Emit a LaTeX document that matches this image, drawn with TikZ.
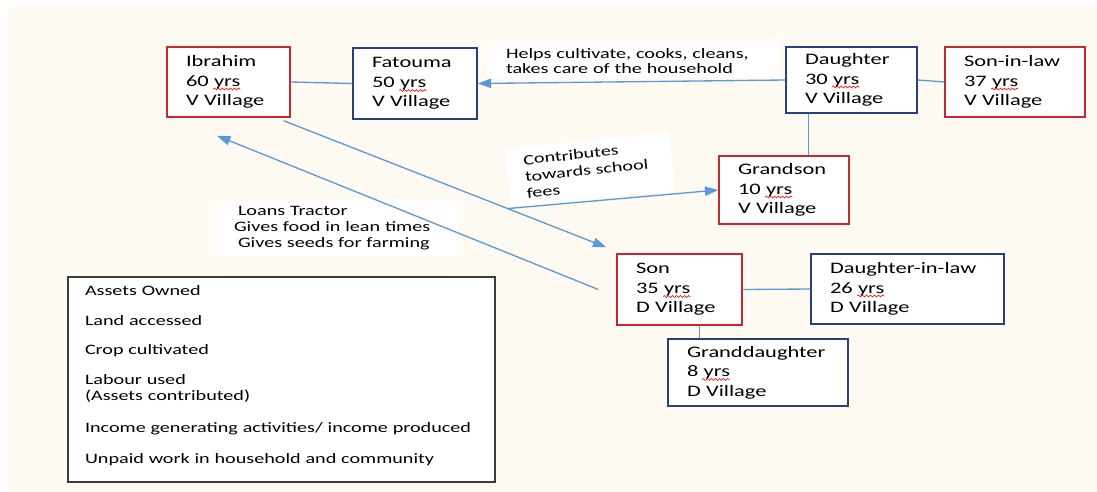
\documentclass[tikz,border=0pt]{standalone}
\usepackage{fontspec}
\setmainfont{Carlito}[FakeStretch=1.4]
\usetikzlibrary{arrows.meta,calc,decorations.pathmorphing}
\definecolor{cream}{RGB}{254,250,241}
\definecolor{pred}{RGB}{200,40,45}
\definecolor{pblue}{RGB}{40,65,125}
\definecolor{connc}{RGB}{91,155,213}
\definecolor{boxgray}{RGB}{60,60,60}
\begin{document}
\begin{tikzpicture}[x=0.75pt,y=-0.75pt,
  pbox/.style={draw, fill=white, line width=1.1pt, align=left, inner xsep=14.25pt, inner ysep=0pt, font=\fontsize{12}{14.6}\selectfont},
  redbox/.style={pbox, draw=pred},
  bluebox/.style={pbox, draw=pblue},
  lab/.style={fill=white, align=left, inner ysep=0pt, font=\fontsize{10.8}{12}\selectfont},
  conn/.style={draw=connc, line width=1pt},
  arr/.style={conn, -{Triangle[length=10pt,width=7pt]}},
  wavy/.style={draw=red, line width=0.5pt, decorate, decoration={snake, amplitude=0.7pt, segment length=3pt}},
]
\useasboundingbox (0,0) rectangle (1097,492);
\fill[white] (0,0) rectangle (1097,492);
\fill[cream] (8,7) rectangle (1097,492);

% people
\node[redbox, minimum width=92.25pt, minimum height=52.5pt, text width=63.75pt] (ib) at (228.5,82) {Ibrahim\\60 yrs\\V Village};
\node[bluebox, minimum width=93pt, minimum height=53.25pt, text width=64.5pt] (fa) at (415,83.5) {Fatouma\\50 yrs\\V Village};
\node[bluebox, minimum width=98.25pt, minimum height=49.5pt, text width=69.75pt] (da) at (851.5,80) {Daughter\\30 yrs\\V Village};
\node[redbox, minimum width=105pt, minimum height=52.5pt, text width=76.5pt] (sil) at (1015,82) {Son-in-law\\37 yrs\\V Village};
\node[redbox, minimum width=97.5pt, minimum height=51pt, text width=69pt] (gs) at (784,190) {Grandson\\10 yrs\\V Village};
\node[redbox, minimum width=93.75pt, minimum height=53.25pt, text width=65.25pt] (so) at (679.5,289.5) {Son\\35 yrs\\D Village};
\node[bluebox, minimum width=144.75pt, minimum height=52.5pt, text width=116.25pt] (dil) at (907.5,289) {Daughter-in-law\\26 yrs\\D Village};
\node[bluebox, minimum width=135pt, minimum height=50.25pt, text width=106.5pt] (gd) at (758,372.5) {Granddaughter\\8 yrs\\D Village};

% spell-check underlines
\foreach \n in {ib,fa,da,sil,gs,so,dil}{
  \draw[wavy] ($(\n.west)+(47,7)$) -- ++(27,0);
}
\draw[wavy] ($(gd.west)+(35,7)$) -- ++(27,0);

% labels
\node[fill=white, minimum width=219.75pt, minimum height=29pt, inner sep=0pt] (helpsbg) at (633.5,58.5) {};
\node[lab, font=\fontsize{10.8}{11.25}\selectfont, text width=191.25pt, inner sep=0pt, anchor=west] (helps) at ($(helpsbg.west)+(19,3)$) {Helps cultivate, cooks, cleans,\\takes care of the household};
\node[lab, font=\fontsize{10.8}{12.6}\selectfont, rotate=6, minimum width=123.75pt, minimum height=44pt, text width=98pt, inner xsep=12.9pt] (contrib) at (590,170) {Contributes\\towards school\\fees};
\node[lab, minimum width=181.5pt, minimum height=43.5pt, text width=153pt, inner xsep=14.25pt] (loans) at (336,228) {\hspace{3pt}Loans Tractor\\Gives food in lean times\\\hspace{3pt}Gives seeds for farming};

% assets box
\node[draw=boxgray, fill=white, line width=1pt, minimum width=320.25pt, minimum height=153.75pt] (assets) at (281.5,379.5) {};
\node[align=left, text width=294.75pt, inner sep=0pt, font=\fontsize{10.8}{12}\selectfont] (assetstext) at ($(assets.center)+(0,-3.5)$) {Assets Owned\\[10.5pt]
Land accessed\\[9.75pt]
Crop cultivated\\[10.5pt]
Labour used\\
(Assets contributed)\\[12pt]
Income generating activities/ income produced\\[11.25pt]
Unpaid work in household and community};

% connectors
\draw[conn] (ib.east) -- (fa.west);
\draw[arr] (da.west) -- (fa.east);
\draw[conn] (da.east) -- (sil.west);
\coordinate (dg) at ($(da.south west)!0.176!(da.south east)$);
\draw[conn] (dg) -- (dg |- gs.north);
\draw[conn] (so.east) -- (dil.west);
\coordinate (sg) at ($(so.south west)!0.656!(so.south east)$);
\draw[conn] (sg) -- (sg |- gd.north);
\coordinate (isA) at ($(ib.south east)+(-7,3)$);
\coordinate (isB) at ($(so.north west)+(-10,-6)$);
\draw[arr] (isA) -- (isB);
\coordinate (cf) at ($(isA)!0.694!(isB)$);
\draw[arr] (cf) -- (gs.west);
\coordinate (sa) at ($(so.west)+(-18,0)$);
\coordinate (sb) at ($(ib.south)+(-11.5,18)$);
\draw[arr] (sa) -- (sb);
\end{tikzpicture}
\end{document}
